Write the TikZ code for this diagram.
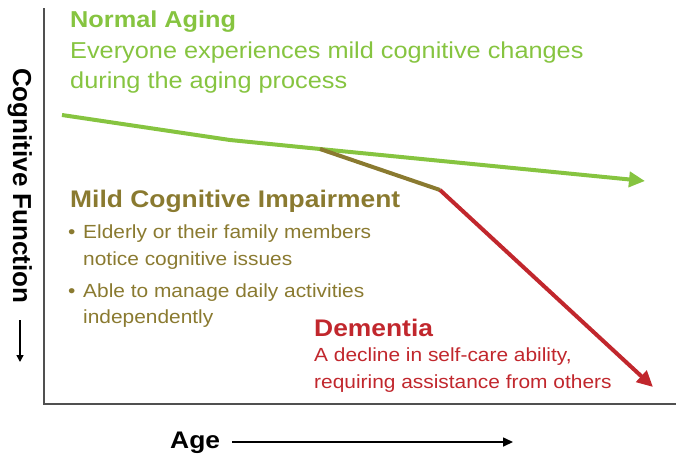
\documentclass[tikz,border=0pt]{standalone}
\usepackage{fontspec}
\setmainfont{Liberation Sans}[FakeStretch=1.1]
\newfontfamily\axisfont{Liberation Sans}
\usetikzlibrary{arrows.meta}
\usetikzlibrary{positioning}
\definecolor{normalgreen}{HTML}{86C440}
\definecolor{mciolive}{HTML}{8A7A30}
\definecolor{demred}{HTML}{C1272D}
\definecolor{axisgray}{HTML}{505050}

\begin{document}
\begin{tikzpicture}[x=1pt, y=-1pt,
  txt/.style={anchor=base west, inner sep=0pt},
  head/.style={txt, font=\bfseries\fontsize{24}{28}\selectfont},
  body/.style={txt, font=\fontsize{23}{28}\selectfont},
  small/.style={txt, font=\fontsize{19}{23}\selectfont},
  trend/.style={line width=4pt, line join=round},
  tip/.style={-{Triangle[length=16pt,width=15pt]}},
  axis/.style={draw=axisgray, line width=1.5pt},
]
\useasboundingbox (0,0) rectangle (676,453);
%axes
\coordinate (y-top) at (44,8);
\coordinate (x-end) at (676,404);
\draw[axis] (y-top) |- (x-end);
%normal aging
\node[head, normalgreen, font=\bfseries\fontsize{23}{28}\selectfont] (n-head) at (70,27) {Normal Aging};
\node[body, normalgreen] (n-l1) at (70,58) {Everyone experiences mild cognitive changes};
\node[body, normalgreen] (n-l2) at (70,88) {during the aging process};
%mild cognitive impairment
\node[head, mciolive] (m-head) at (70,207) {Mild Cognitive Impairment};
\node[small, mciolive] (m-dot1) at (68,238) {•};
\node[small, mciolive] (m-b1) at (83,238) {Elderly or their family members};
\node[small, mciolive] (m-b1b) at (83,265) {notice cognitive issues};
\node[small, mciolive] (m-dot2) at (68,297) {•};
\node[small, mciolive] (m-b2) at (83,297) {Able to manage daily activities};
\node[small, mciolive] (m-b2b) at (83,323) {independently};
%dementia
\node[head, demred] (d-head) at (314,336) {Dementia};
\node[small, demred] (d-l1) at (314,361) {A decline in self-care ability,};
\node[small, demred] (d-l2) at (314,388) {requiring assistance from others};
%trend lines
\coordinate (t-start) at (62,115);
\coordinate (t-bend) at (230,140);
\coordinate (t-split) at (320,149);
\coordinate (t-mci) at (440,190);
\coordinate (t-normal) at (645,181);
\coordinate (t-dem) at (653,387);
\draw[trend, normalgreen, tip] (t-start) -- (t-bend) -- (t-split) -- (t-normal);
\draw[trend, mciolive] (t-split) -- (t-mci);
\draw[trend, demred, tip] (t-mci) -- (t-dem);
%axis labels
\node[txt, rotate=-90, font=\axisfont\bfseries\fontsize{26}{28}\selectfont] (y-label) at (13,68) {Cognitive Function};
\coordinate (y-tail) at (20,320);
\coordinate (y-head) at (20,362);
\draw[line width=1.5pt, -{Triangle[length=7pt,width=7pt]}] (y-tail) -- (y-head);
\node[head] (x-label) at (170,448) {Age};
\coordinate (x-tail) at (232,442);
\coordinate (x-head) at (513,442);
\draw[line width=1.6pt, -{Triangle[length=10pt,width=9pt]}] (x-tail) -- (x-head);
\end{tikzpicture}
\end{document}
